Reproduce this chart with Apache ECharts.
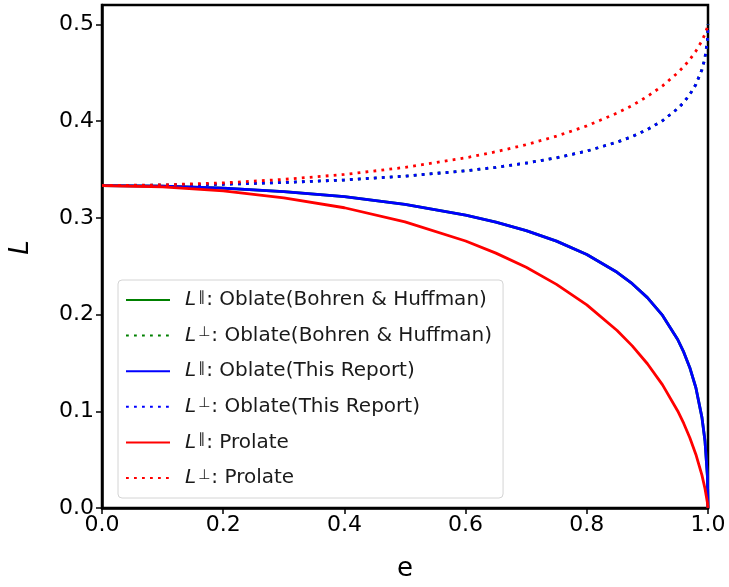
<!DOCTYPE html>
<html>
<head>
<meta charset="utf-8">
<script src="https://cdn.jsdelivr.net/npm/echarts@6/dist/echarts.min.js"></script>
<style>
  html, body { margin: 0; padding: 0; background: #fff; }
  #chart { width: 729px; height: 587px; }
</style>
</head>
<body>
<div id="chart"></div>
<script>
// eccentricity sample points
const ecc = [0, 0.1, 0.2, 0.3, 0.4, 0.5, 0.6, 0.65, 0.7, 0.75, 0.8, 0.85, 0.875, 0.9, 0.925, 0.95, 0.96, 0.97, 0.98, 0.99, 0.995, 0.999, 1]

// oblate (Bohren & Huffman and this report overlap)
const oblatePar = [0.3333, 0.3327, 0.3306, 0.3270, 0.3218, 0.3138, 0.3028, 0.2956, 0.2868, 0.2759, 0.2621, 0.2437, 0.2319, 0.2175, 0.1991, 0.1742, 0.1611, 0.1451, 0.1243, 0.0937, 0.0695, 0.0332, 0]
const oblatePerp = [0.3333, 0.3337, 0.3347, 0.3365, 0.3391, 0.3431, 0.3486, 0.3522, 0.3566, 0.3620, 0.3690, 0.3782, 0.3841, 0.3913, 0.4004, 0.4129, 0.4194, 0.4275, 0.4379, 0.4532, 0.4653, 0.4834, 0.5]

// prolate
const prolatePar = [0.3333, 0.3320, 0.3279, 0.3206, 0.3104, 0.2958, 0.2760, 0.2635, 0.2488, 0.2312, 0.2100, 0.1835, 0.1676, 0.1491, 0.1273, 0.1003, 0.0874, 0.0727, 0.0554, 0.0340, 0.0202, 0.0056, 0]
const prolatePerp = [0.3333, 0.3340, 0.3361, 0.3397, 0.3448, 0.3521, 0.3620, 0.3683, 0.3756, 0.3844, 0.3950, 0.4083, 0.4162, 0.4255, 0.4364, 0.4499, 0.4563, 0.4637, 0.4723, 0.4830, 0.4899, 0.4972, 0.5]

const pairs = ys => ecc.map((e, i) => [e, ys[i]])

const font = 'DejaVu Sans'
const dots = [2.8, 5.2]

function line(name, ys, color, dotted) {
    return {
        name,
        type: 'line',
        data: pairs(ys),
        symbol: 'none',
        smooth: false,
        lineStyle: { color, width: 2.8, type: dotted ? dots : 'solid', cap: 'butt' },
        itemStyle: { color },
        animation: false
    }
}

const names = [
    '{i|L}{s|∥}{t|: Oblate(Bohren & Huffman)}',
    '{i|L}{s|⊥}{t|: Oblate(Bohren & Huffman)}',
    '{i|L}{s|∥}{t|: Oblate(This Report)}',
    '{i|L}{s|⊥}{t|: Oblate(This Report)}',
    '{i|L}{s|∥}{t|: Prolate}',
    '{i|L}{s|⊥}{t|: Prolate}'
]

const chart = echarts.init(document.getElementById('chart'))
chart.setOption({
    backgroundColor: '#fff',
    grid: {
        left: 100, right: 21, top: 5, bottom: 79,
        show: true, borderColor: '#000', borderWidth: 2.5
    },
    xAxis: {
        type: 'value', min: 0, max: 1, interval: 0.2,
        name: 'e', nameLocation: 'middle', nameGap: 48,
        nameTextStyle: { fontFamily: font, fontSize: 26, color: '#000' },
        axisLine: { show: true, lineStyle: { color: '#000', width: 2.5 } },
        axisTick: { show: true, length: 6, lineStyle: { color: '#000', width: 1.5 } },
        axisLabel: { fontFamily: font, fontSize: 22, color: '#000', margin: 6, formatter: v => v.toFixed(1) },
        splitLine: { show: false }
    },
    yAxis: {
        type: 'value', min: 0, max: 0.52, interval: 0.1,
        name: 'L', nameLocation: 'middle', nameGap: 68, nameRotate: 90,
        nameTextStyle: { fontFamily: font, fontSize: 26, fontStyle: 'italic', color: '#000', padding: [0, 0, 0, 18] },
        axisLine: { show: true, lineStyle: { color: '#000', width: 2.5 } },
        axisTick: { show: true, length: 6, lineStyle: { color: '#000', width: 1.5 } },
        axisLabel: { fontFamily: font, fontSize: 22, color: '#000', margin: 8, showMaxLabel: false, formatter: v => v.toFixed(1) },
        splitLine: { show: false }
    },
    legend: {
        orient: 'vertical',
        left: 118, top: 280,
        padding: [10, 11, 10, 7],
        itemWidth: 44, itemHeight: 14, itemGap: 15.6,
        backgroundColor: '#fff',
        borderColor: '#d4d4d4', borderWidth: 1, borderRadius: 4,
        itemStyle: { opacity: 0 },
        textStyle: {
            fontFamily: font, fontSize: 20, color: '#1a1a1a', lineHeight: 20,
            rich: {
                i: { fontFamily: font, fontStyle: 'italic', fontSize: 20, lineHeight: 20, color: '#1a1a1a', padding: [0, 0, 0, 10] },
                s: { fontFamily: font, fontSize: 14, lineHeight: 12, color: '#1a1a1a', verticalAlign: 'top', padding: [0, 1, 0, 2] },
                t: { fontFamily: font, fontSize: 20, lineHeight: 20, color: '#1a1a1a' }
            }
        },
        data: names
    },
    series: [
        line(names[0], oblatePar, '#008000', false),
        line(names[1], oblatePerp, '#008000', true),
        line(names[2], oblatePar, '#0000ff', false),
        line(names[3], oblatePerp, '#0000ff', true),
        line(names[4], prolatePar, '#ff0000', false),
        line(names[5], prolatePerp, '#ff0000', true)
    ]
})
</script>
</body>
</html>
